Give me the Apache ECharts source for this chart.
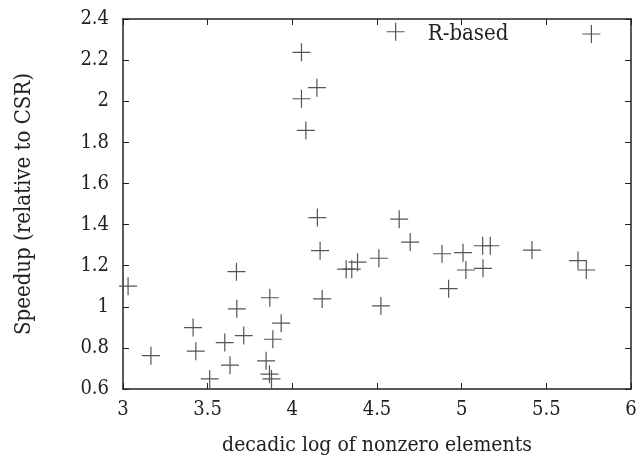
<!DOCTYPE html>
<html>
<head>
<meta charset="utf-8">
<script src="https://cdn.jsdelivr.net/npm/echarts@6/dist/echarts.min.js"></script>
<style>
  html, body { margin: 0; padding: 0; background: #fff; }
  #chart { width: 641px; height: 466px; }
</style>
</head>
<body>
<div id="chart"></div>
<script>
// decadic log of nonzero elements (x) and speedup vs CSR (y)
var logNnz = [
  3.03, 3.165, 3.414, 3.43, 3.512, 3.601, 3.632, 3.67, 3.672, 3.713,
  3.845, 3.867, 3.865, 3.877, 3.885, 3.934, 4.054, 4.054, 4.08, 4.145,
  4.148, 4.164, 4.176, 4.318, 4.351, 4.385, 4.511, 4.523, 4.61, 4.631,
  4.696, 4.884, 4.923, 5.008, 5.025, 5.124, 5.169, 5.126, 5.415, 5.687,
  5.736
];
var speedup = [
  1.10, 0.762, 0.899, 0.784, 0.649, 0.826, 0.716, 1.171, 0.99, 0.86,
  0.737, 1.044, 0.672, 0.649, 0.842, 0.92, 2.238, 2.012, 1.858, 2.066,
  1.434, 1.273, 1.038, 1.183, 1.183, 1.217, 1.236, 1.004, 2.338, 1.426,
  1.315, 1.258, 1.088, 1.263, 1.179, 1.297, 1.297, 1.187, 1.276, 1.225,
  1.179
];
var seriesName = 'R-based';
var xTitle = 'decadic log of nonzero elements';
var yTitle = 'Speedup (relative to CSR)';

var points = logNnz.map(function (x, i) { return [x, speedup[i]]; });

var FONT = 'DejaVu Serif Condensed';
var PLUS = 'path://M0,50L100,50M50,0L50,100';
var INK = '#222';

var chart = echarts.init(document.getElementById('chart'));

function axisBase(extra) {
  var a = {
    type: 'value',
    axisLine: { show: true, onZero: false, lineStyle: { color: INK, width: 1.5 } },
    axisTick: { show: true, inside: true, length: 6, lineStyle: { color: INK, width: 1 } },
    splitLine: { show: false },
    axisLabel: { show: true, color: INK, fontFamily: FONT, fontSize: 20 }
  };
  return Object.assign(a, extra);
}

chart.setOption({
  animation: false,
  grid: { left: 123, right: 10, top: 19, bottom: 77 },
  legend: {
    data: [seriesName],
    right: 35,
    top: 18,
    align: 'right',
    itemWidth: 18,
    itemHeight: 18,
    icon: PLUS,
    itemStyle: { color: 'rgba(0,0,0,0)', borderColor: '#555', borderWidth: 1.2 },
    textStyle: { color: INK, fontFamily: FONT, fontSize: 22, padding: [0, 69, 0, 0] }
  },
  xAxis: [
    axisBase({
      min: 3, max: 6, interval: 0.5,
      name: xTitle, nameLocation: 'middle', nameGap: 46,
      nameTextStyle: { color: INK, fontFamily: FONT, fontSize: 21 },
      axisLabel: { color: INK, fontFamily: FONT, fontSize: 20, margin: 11 }
    }),
    axisBase({
      min: 3, max: 6, interval: 0.5, position: 'top',
      axisLabel: { show: false }
    })
  ],
  yAxis: [
    axisBase({
      min: 0.6, max: 2.4, interval: 0.2,
      name: yTitle, nameLocation: 'middle', nameGap: 88, nameRotate: 90,
      nameTextStyle: { color: INK, fontFamily: FONT, fontSize: 22 },
      axisLabel: { color: INK, fontFamily: FONT, fontSize: 20, margin: 14 }
    }),
    axisBase({
      min: 0.6, max: 2.4, interval: 0.2, position: 'right',
      axisLabel: { show: false }
    })
  ],
  series: [{
    name: seriesName,
    type: 'scatter',
    data: points,
    symbol: PLUS,
    symbolSize: 18,
    itemStyle: { color: 'rgba(0,0,0,0)', borderColor: '#555', borderWidth: 1.2, opacity: 1 },
    emphasis: { disabled: true }
  }]
});
</script>
</body>
</html>
